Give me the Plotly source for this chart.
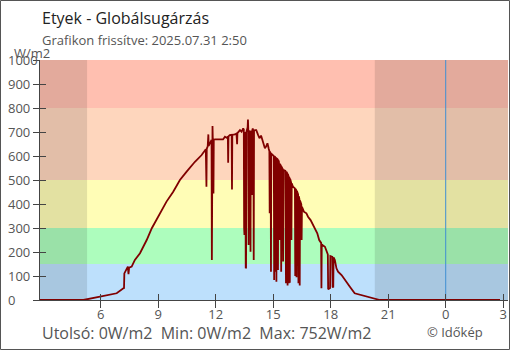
import plotly.graph_objects as go

# ---- data ----
times = ["02:50", "05:06", "05:58", "06:29", "06:50", "07:11", "07:13", "07:14", "07:21", "07:25",
         "07:27", "07:29", "07:37", "07:47", "08:03", "08:24", "08:40", "09:05", "09:26", "09:47",
         "10:08", "10:29", "10:55", "11:16", "11:29", "11:31", "11:32", "11:35", "11:37", "11:38",
         "11:47", "11:48", "11:49", "11:50", "11:51", "11:53", "11:54", "11:58", "12:23", "12:29",
         "12:34", "12:38", "12:39", "12:40", "12:44", "12:50", "12:51", "12:52", "13:00", "13:05",
         "13:07", "13:08", "13:16", "13:21", "13:26", "13:28", "13:29", "13:30", "13:31", "13:33",
         "13:34", "13:35", "13:36", "13:40", "13:41", "13:42", "13:43", "13:44", "13:48", "13:49",
         "13:50", "13:52", "13:53", "13:54", "13:56", "13:58", "13:59", "14:00", "14:03", "14:07",
         "14:12", "14:17", "14:22", "14:28", "14:34", "14:38", "14:42", "14:46", "14:48", "14:49",
         "14:50", "14:52", "14:53", "14:54", "14:59", "15:02", "15:03", "15:04", "15:06", "15:07",
         "15:08", "15:09", "15:10", "15:11", "15:14", "15:15", "15:16", "15:18", "15:19", "15:20",
         "15:24", "15:25", "15:26", "15:30", "15:31", "15:32", "15:38", "15:40", "15:41", "15:44",
         "15:45", "15:46", "15:48", "15:49", "15:50", "15:51", "15:52", "15:53", "15:56", "15:57",
         "15:58", "16:02", "16:08", "16:09", "16:10", "16:12", "16:13", "16:14", "16:18", "16:19",
         "16:20", "16:22", "16:23", "16:24", "16:28", "16:29", "16:30", "16:32", "16:36", "16:44",
         "16:49", "16:57", "17:05", "17:10", "17:18", "17:24", "17:28", "17:30", "17:31", "17:32",
         "17:34", "17:42", "17:47", "17:51", "17:52", "17:58", "17:59", "18:05", "18:06", "18:08",
         "18:09", "18:13", "18:18", "18:23", "18:34", "18:44", "18:54", "19:00", "19:15", "19:52",
         "20:34", "26:50"]
values = [0, 0, 14, 21, 28, 49, 50, 111, 129, 139,
          108, 135, 139, 167, 195, 250, 299, 361, 410, 451,
          500, 535, 576, 604, 628, 472, 630, 640, 690, 642,
          667, 167, 660, 725, 665, 444, 668, 669, 669, 680,
          676, 680, 572, 682, 687, 688, 460, 688, 690, 694,
          649, 695, 708, 701, 715, 710, 300, 271, 700, 690,
          132, 135, 700, 720, 752, 710, 229, 700, 705, 201,
          705, 700, 438, 705, 715, 700, 167, 705, 708, 708,
          690, 674, 685, 660, 632, 640, 653, 630, 620, 361,
          618, 612, 118, 610, 604, 600, 83, 598, 596, 118,
          594, 592, 76, 590, 586, 125, 583, 575, 250, 568,
          560, 118, 556, 545, 160, 542, 538, 70, 535, 528,
          60, 525, 515, 70, 512, 508, 72, 505, 490, 250,
          486, 472, 465, 100, 462, 458, 95, 455, 440, 70,
          432, 420, 60, 415, 398, 250, 388, 382, 368, 361,
          347, 333, 312, 299, 278, 250, 243, 238, 49, 232,
          229, 222, 208, 190, 45, 50, 183, 180, 55, 52,
          178, 167, 132, 118, 104, 83, 62, 55, 28, 14,
          0, 0]

x_tickvals = [6, 9, 12, 15, 18, 21, 24, 27]
x_ticktext = ["6", "9", "12", "15", "18", "21", "0", "3"]
y_tickvals = [0, 100, 200, 300, 400, 500, 600, 700, 800, 900, 1000]
y_ticktext = ["0", "100", "200", "300", "400", "500", "600", "700", "800", "900", "1000"]

band_edges = [0, 150, 300, 500, 800, 1000]
band_colors = ["#bde0fc", "#adfdbd", "#fffdb6", "#fed6bd", "#ffbfb0"]

x_start, x_end = 2.8333, 27.25
sunrise, sunset = 5.29, 20.30
midnight = 24

title_text = "Etyek - Globálsugárzás"
subtitle_text = "Grafikon frissítve: 2025.07.31 2:50"
unit_text = "W/m2"
stats_text = "Utolsó: 0W/m2\u00a0\u00a0Min: 0W/m2\u00a0\u00a0Max: 752W/m2"
credit_text = "© Időkép"

# ---- geometry ----
W, H = 510, 350
ML, MR, MT, MB = 40, 2, 60, 50
PW, PH = W - ML - MR, H - MT - MB


def px_x(p):
    return (p - ML) / PW


def px_y(p):
    return 1 - (p - MT) / PH


hours = [int(t.split(":")[0]) + int(t.split(":")[1]) / 60 for t in times]

FONT = "Open Sans"
GRAY = "#555555"
AX = "#444444"

fig = go.Figure()
fig.add_trace(go.Scatter(x=hours, y=values, mode="lines",
                         line=dict(color="#800000", width=1.8),
                         hoverinfo="skip", showlegend=False))
fig.add_trace(go.Scatter(x=[], y=[], xaxis="x2", yaxis="y2", showlegend=False, hoverinfo="skip"))

shapes = []
for i, c in enumerate(band_colors):
    shapes.append(dict(type="rect", xref="paper", yref="y", x0=0, x1=1,
                       y0=band_edges[i], y1=band_edges[i + 1],
                       fillcolor=c, line=dict(width=0), layer="below"))
for a, b in [(x_start, sunrise), (sunset, x_end)]:
    shapes.append(dict(type="rect", xref="x", yref="paper", x0=a, x1=b, y0=0, y1=1,
                       fillcolor="rgba(0,0,0,0.11)", line=dict(width=0), layer="below"))
shapes.append(dict(type="line", xref="x", yref="paper", x0=midnight, x1=midnight, y0=0, y1=1,
                   line=dict(color="#3f8fd2", width=1), layer="below"))
# outer frame
shapes.append(dict(type="rect", xref="paper", yref="paper",
                   x0=px_x(0.5), x1=px_x(W - 0.5), y0=px_y(H - 0.5), y1=px_y(0.5),
                   line=dict(color="#555555", width=1), fillcolor="rgba(0,0,0,0)", layer="above"))

annotations = []
for v, t in zip(y_tickvals, y_ticktext):
    annotations.append(dict(x=px_x(6), xref="paper", y=v, yref="y", text=t,
                            xanchor="left", yanchor="middle", showarrow=False,
                            font=dict(family=FONT, size=13, color=GRAY)))
annotations += [
    dict(x=px_x(40), y=px_y(18.4), xref="paper", yref="paper", text=title_text,
         xanchor="left", yanchor="middle", showarrow=False,
         font=dict(family=FONT, size=16, color="#222222")),
    dict(x=px_x(40), y=px_y(40.5), xref="paper", yref="paper", text=subtitle_text,
         xanchor="left", yanchor="middle", showarrow=False,
         font=dict(family=FONT, size=13, color=GRAY)),
    dict(x=px_x(12), y=px_y(52.5), xref="paper", yref="paper", text=unit_text,
         xanchor="left", yanchor="middle", showarrow=False,
         font=dict(family=FONT, size=13, color=GRAY)),
    dict(x=px_x(40), y=px_y(333.4), xref="paper", yref="paper", text=stats_text,
         xanchor="left", yanchor="middle", showarrow=False,
         font=dict(family=FONT, size=16, color=GRAY)),
    dict(x=px_x(425), y=px_y(331.5), xref="paper", yref="paper", text=credit_text,
         xanchor="left", yanchor="middle", showarrow=False,
         font=dict(family=FONT, size=13, color=GRAY)),
]

fig.update_layout(
    width=W, height=H,
    margin=dict(l=ML, r=MR, t=MT, b=MB, pad=0),
    paper_bgcolor="white", plot_bgcolor="white",
    font=dict(family=FONT, size=13, color=GRAY),
    shapes=shapes, annotations=annotations,
    xaxis=dict(range=[x_start, x_end], tickvals=x_tickvals, ticktext=x_ticktext,
               ticks="outside", ticklen=7, tickcolor=AX, tickwidth=1, ticklabelstandoff=-5,
               showline=True, linecolor=AX, linewidth=1, showgrid=False, zeroline=False,
               tickfont=dict(family=FONT, size=13, color=GRAY), fixedrange=True),
    yaxis=dict(range=[0, 1000], tickvals=y_tickvals, showticklabels=False,
               ticks="outside", ticklen=6, tickcolor=AX, tickwidth=1,
               showline=True, linecolor=AX, linewidth=1, showgrid=False, zeroline=False,
               fixedrange=True),
    xaxis2=dict(range=[x_start, x_end], tickvals=x_tickvals, showticklabels=False,
                overlaying="x", anchor="y2", side="bottom", ticks="inside", ticklen=6,
                tickcolor=AX, showline=False, showgrid=False, zeroline=False, fixedrange=True),
    yaxis2=dict(range=[0, 1000], tickvals=y_tickvals, showticklabels=False,
                overlaying="y", anchor="x2", side="left", ticks="inside", ticklen=6,
                tickcolor=AX, showline=False, showgrid=False, zeroline=False, fixedrange=True),
)

fig.write_html("out.html", config={"displayModeBar": False})
